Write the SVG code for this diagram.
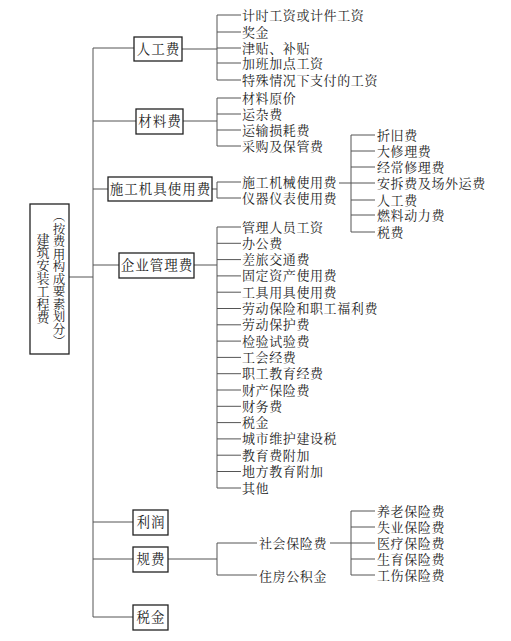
<svg xmlns="http://www.w3.org/2000/svg" width="511" height="641" viewBox="0 0 511 641">
<style>
text{font-family:"Liberation Serif","Noto Serif CJK SC","Noto Sans CJK SC",serif;fill:#222;}
.it{font-size:13px;letter-spacing:0.6px;dominant-baseline:central;}
.bx{font-size:13.5px;letter-spacing:1px;dominant-baseline:central;text-anchor:middle;}
.box{fill:#fff;stroke:#222;stroke-width:1.3;}
.c{fill:none;stroke:#555;stroke-width:1;}
.v{font-size:13px;writing-mode:vertical-rl;text-anchor:middle;}
</style>
<rect width="511" height="641" fill="#fff"/>
<g id="connectors" class="c">
<path d="M69 277H93M93 48V617M93 48H134M93 121H136M93 189H108M93 265H119M93 522H133M93 559H133M93 617H133"/>
<path d="M182 49H217M217 15V80M217 15H241M217 32H241M217 48H241M217 63H241M217 80H241"/>
<path d="M183 121H217M217 98V146M217 98H241M217 114H241M217 130H241M217 146H241"/>
<path d="M212 189H217M217 182V198M217 182H241M217 198H241"/>
<path d="M339 183H375M351 135V232M351 135H375M351 151H375M351 167H375M351 200H375M351 215H375M351 232H375"/>
<path d="M194 265H217M217 227V488M217 227H241M217 243.3H241M217 259.6H241M217 275.9H241M217 292.2H241M217 308.5H241M217 324.8H241M217 341.1H241M217 357.4H241M217 373.7H241M217 390H241M217 406.3H241M217 422.6H241M217 438.9H241M217 455.2H241M217 471.5H241M217 488H241"/>
<path d="M168 559H217M217 543V575M217 543H257M217 575H257M330 543H351M351 511V575M351 511H375M351 527H375M351 543H375M351 559H375M351 575H375"/>
</g>
<g id="root">
<rect class="box" x="30" y="204" width="39" height="150"/>
<text class="v" x="42" y="278.5">建筑安装工程费</text>
<text class="v" x="58" y="279" style="font-size:12.5px">（按费用构成要素划分）</text>
</g>
<g id="n-rengong">
<rect class="box" x="134" y="37" width="48" height="24"/>
<text class="bx" x="158.5" y="49">人工费</text>
</g>
<g id="n-cailiao">
<rect class="box" x="136" y="109" width="47" height="25"/>
<text class="bx" x="160" y="121.5">材料费</text>
</g>
<g id="n-jiju">
<rect class="box" x="108" y="177" width="104" height="24"/>
<text class="bx" x="160.5" y="189">施工机具使用费</text>
</g>
<g id="n-qiye">
<rect class="box" x="119" y="253" width="75" height="25"/>
<text class="bx" x="157" y="265.5">企业管理费</text>
</g>
<g id="n-lirun">
<rect class="box" x="133" y="510" width="35" height="25"/>
<text class="bx" x="151" y="522.5">利润</text>
</g>
<g id="n-guifei">
<rect class="box" x="133" y="547" width="35" height="25"/>
<text class="bx" x="151" y="559.5">规费</text>
</g>
<g id="n-shuijin">
<rect class="box" x="133" y="605" width="35" height="25"/>
<text class="bx" x="151" y="617.5">税金</text>
</g>
<g id="items-rengong">
<text class="it" x="242" y="15">计时工资或计件工资</text>
<text class="it" x="242" y="32">奖金</text>
<text class="it" x="242" y="48">津贴、补贴</text>
<text class="it" x="242" y="63">加班加点工资</text>
<text class="it" x="242" y="80">特殊情况下支付的工资</text>
</g>
<g id="items-cailiao">
<text class="it" x="242" y="98">材料原价</text>
<text class="it" x="242" y="114">运杂费</text>
<text class="it" x="242" y="130">运输损耗费</text>
<text class="it" x="242" y="146">采购及保管费</text>
</g>
<g id="items-jiju">
<text class="it" x="242" y="182">施工机械使用费</text>
<text class="it" x="242" y="198">仪器仪表使用费</text>
</g>
<g id="items-jixie">
<text class="it" x="377" y="135">折旧费</text>
<text class="it" x="377" y="151">大修理费</text>
<text class="it" x="377" y="167">经常修理费</text>
<text class="it" x="377" y="183">安拆费及场外运费</text>
<text class="it" x="377" y="200">人工费</text>
<text class="it" x="377" y="215">燃料动力费</text>
<text class="it" x="377" y="232">税费</text>
</g>
<g id="items-qiye">
<text class="it" x="242" y="227">管理人员工资</text>
<text class="it" x="242" y="243.3">办公费</text>
<text class="it" x="242" y="259.6">差旅交通费</text>
<text class="it" x="242" y="275.9">固定资产使用费</text>
<text class="it" x="242" y="292.2">工具用具使用费</text>
<text class="it" x="242" y="308.5">劳动保险和职工福利费</text>
<text class="it" x="242" y="324.8">劳动保护费</text>
<text class="it" x="242" y="341.1">检验试验费</text>
<text class="it" x="242" y="357.4">工会经费</text>
<text class="it" x="242" y="373.7">职工教育经费</text>
<text class="it" x="242" y="390">财产保险费</text>
<text class="it" x="242" y="406.3">财务费</text>
<text class="it" x="242" y="422.6">税金</text>
<text class="it" x="242" y="438.9">城市维护建设税</text>
<text class="it" x="242" y="455.2">教育费附加</text>
<text class="it" x="242" y="471.5">地方教育附加</text>
<text class="it" x="242" y="488">其他</text>
</g>
<g id="items-guifei">
<text class="it" x="259" y="543">社会保险费</text>
<text class="it" x="259" y="576">住房公积金</text>
</g>
<g id="items-shebao">
<text class="it" x="377" y="511">养老保险费</text>
<text class="it" x="377" y="527">失业保险费</text>
<text class="it" x="377" y="543">医疗保险费</text>
<text class="it" x="377" y="559">生育保险费</text>
<text class="it" x="377" y="575">工伤保险费</text>
</g>
</svg>
